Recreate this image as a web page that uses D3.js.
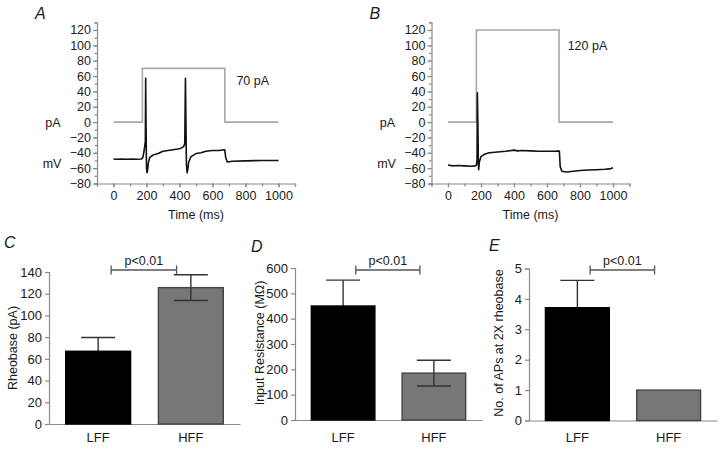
<!DOCTYPE html>
<html><head><meta charset="utf-8">
<script src="https://cdn.jsdelivr.net/npm/d3@7/dist/d3.min.js"></script>
<style>
body{margin:0;background:#fff;}
svg{display:block;font-family:"Liberation Sans",Arial,sans-serif;}
</style></head>
<body><svg id="c" width="720" height="452"></svg>
<script>
// ---------- Data ----------
// Panel A: current step (pA) and membrane voltage (mV) vs time (ms)
const stepA_t = [0, 175, 175, 675, 675, 1000];
const stepA_v = [0, 0, 70, 70, 0, 0];
const traceA_t = [0,20,50,80,110,140,170,178,185,190,193,195,197,200,203,207,212,220,240,270,300,330,360,390,410,425,432,436,439,442,446,450,456,470,500,530,560,600,640,670,674,680,690,720,800,900,1000];
const traceA_v = [-48,-48.5,-48,-48.5,-48,-48.5,-48,-46,-38,-30,-25,57,0,-60,-66,-62,-52,-46,-43,-41,-38,-37,-36,-35,-34,-32,-28,57,0,-55,-66,-62,-52,-45,-41,-40,-38,-37,-37,-36,-36,-46,-52,-51,-50.5,-50,-50];
const labelA = "70 pA";
// Panel B
const stepB_t = [0, 172, 172, 673, 673, 1000];
const stepB_v = [0, 0, 120, 120, 0, 0];
const traceB_t = [0,30,60,100,140,165,172,176,178,181,184,186,190,200,220,250,300,350,400,420,450,500,550,600,650,670,675,680,690,720,760,800,850,900,950,980,1000];
const traceB_v = [-56,-57,-56.5,-57,-57.5,-57,-56,-50,38,0,-55,-62,-52,-45,-42,-40,-39,-38,-36.5,-37.5,-37,-37.5,-38,-38,-38,-37.5,-38,-58,-64,-65,-64,-63,-62.5,-62,-61.5,-61,-59.5];
const labelB = "120 pA";
const timeTicks = [0, 200, 400, 600, 800, 1000];
const voltTicks = [-80, -60, -40, -20, 0, 20, 40, 60, 80, 100, 120];

// Bottom panels
const groups = ["LFF", "HFF"];
const rheobase = [67, 125.6];
const rheobaseErr = [12.7, 11.8];
const rheobaseTicks = [0, 20, 40, 60, 80, 100, 120, 140];
const resistance = [450, 185];
const resistanceErr = [102, 51];
const resistanceTicks = [0, 100, 200, 300, 400, 500, 600];
const apCount = [3.71, 1.0];
const apCountErr = [0.9, 0];
const apCountTicks = [0, 1, 2, 3, 4, 5];
const sigLabel = "p<0.01";

// ---------- Drawing ----------
const svg = d3.select("#c");
const AX = "#8a8a8a";
const TXT = "#1a1a1a";
const fmt = d3.format("d");

function styleAxis(g){
  g.select(".domain").attr("stroke", AX).attr("stroke-width", 1.2);
  g.selectAll(".tick line").attr("stroke", AX).attr("stroke-width", 1.2);
  g.selectAll(".tick text").attr("fill", TXT).attr("font-size", 12.5)
   .attr("font-family", "Liberation Sans, Arial, sans-serif");
}

function tracePanel(o){
  const x = d3.scaleLinear().domain([-100, 1100]).range([o.x0, o.x0 + 198]);
  const y = d3.scaleLinear().domain([-80, 130]).range([183.5, 22.3]);
  const gxm = svg.append("g").attr("transform", `translate(0,${y(-80)})`)
    .call(d3.axisBottom(x).tickValues(d3.range(-100, 1101, 100)).tickSize(3).tickFormat(""));
  styleAxis(gxm);
  const gx = svg.append("g").attr("transform", `translate(0,${y(-80)})`)
    .call(d3.axisBottom(x).tickValues(timeTicks).tickFormat(fmt).tickSize(4).tickPadding(4));
  styleAxis(gx);
  gx.select(".domain").remove();
  const gym = svg.append("g").attr("transform", `translate(${x(-100)},0)`)
    .call(d3.axisLeft(y).tickValues(d3.range(-80, 131, 10)).tickSize(2.5).tickFormat(""));
  styleAxis(gym);
  const gy = svg.append("g").attr("transform", `translate(${x(-100)},0)`)
    .call(d3.axisLeft(y).tickValues(voltTicks).tickFormat(fmt).tickSize(4).tickPadding(2));
  styleAxis(gy);
  gy.select(".domain").remove();

  const line = d3.line().x(d => x(d[0])).y(d => y(d[1]));
  svg.append("path").datum(d3.zip(o.st, o.sv)).attr("d", line)
    .attr("fill", "none").attr("stroke", "#a8a8a8").attr("stroke-width", 1.6);
  svg.append("path").datum(d3.zip(o.tt, o.tv)).attr("d", line)
    .attr("fill", "none").attr("stroke", "#111").attr("stroke-width", 1.6)
    .attr("stroke-linejoin", "round");

  svg.append("text").attr("x", x(o.lx)).attr("y", y(o.ly)).attr("dy", "0.36em")
    .attr("font-size", 12.5).attr("fill", TXT).text(o.label);
  svg.append("text").attr("x", o.x0 - 44).attr("y", y(0)).attr("dy", "0.36em")
    .attr("text-anchor", "middle").attr("font-size", 12.5).attr("fill", TXT).text("pA");
  svg.append("text").attr("x", o.x0 - 45).attr("y", 163).attr("dy", "0.36em")
    .attr("text-anchor", "middle").attr("font-size", 12.5).attr("fill", TXT).text("mV");
  svg.append("text").attr("x", x(500)).attr("y", 219)
    .attr("text-anchor", "middle").attr("font-size", 12.5).attr("fill", TXT).text("Time (ms)");
  svg.append("text").attr("x", o.x0 - 62).attr("y", 19)
    .attr("font-size", 16).attr("font-style", "italic").attr("fill", TXT).text(o.letter);
}

tracePanel({x0: 97, st: stepA_t, sv: stepA_v, tt: traceA_t, tv: traceA_v, label: labelA, lx: 745, ly: 54, letter: "A"});
tracePanel({x0: 431.5, st: stepB_t, sv: stepB_v, tt: traceB_t, tv: traceB_v, label: labelB, lx: 725, ly: 100, letter: "B"});

function barPanel(o){
  const x = d3.scaleBand().domain(groups).range([o.x0, o.x1]).paddingInner(0.3).paddingOuter(0.18);
  const y = d3.scaleLinear().domain([0, o.ymax]).range([o.y0, o.y0 - 152]);
  const gy = svg.append("g").attr("transform", `translate(${o.x0},0)`)
    .call(d3.axisLeft(y).tickValues(o.ticks).tickFormat(fmt).tickSize(4).tickPadding(3));
  styleAxis(gy);
  gy.selectAll(".tick text").attr("font-size", 13);
  const gx = svg.append("g").attr("transform", `translate(0,${o.y0})`)
    .call(d3.axisBottom(x).tickSize(0).tickPadding(0));
  styleAxis(gx);
  gx.selectAll(".tick text").attr("font-size", 13).attr("y", 437 - o.y0).attr("dy", "0.36em");

  const bw = x.bandwidth();
  groups.forEach((g, i) => {
    const v = o.vals[i], e = o.errs[i];
    const cx = x(g) + bw / 2;
    const cap = 17;
    if (e > 0) {
      const lo = i === 0 ? v : v - e;
      svg.append("line").attr("x1", cx).attr("x2", cx).attr("y1", y(lo)).attr("y2", y(v + e))
        .attr("stroke", "#333").attr("stroke-width", 1.4);
      svg.append("line").attr("x1", cx - cap).attr("x2", cx + cap).attr("y1", y(v + e)).attr("y2", y(v + e))
        .attr("stroke", "#333").attr("stroke-width", 1.4);
    }
    svg.append("rect").attr("x", x(g)).attr("width", bw).attr("y", y(v)).attr("height", y(0) - y(v))
      .attr("fill", i === 0 ? "#000" : "#777").attr("stroke", i === 0 ? "#000" : "#444").attr("stroke-width", 1.4);
    if (e > 0 && i === 1) {
      svg.append("line").attr("x1", cx).attr("x2", cx).attr("y1", y(v - e)).attr("y2", y(v))
        .attr("stroke", "#333").attr("stroke-width", 1.4);
      svg.append("line").attr("x1", cx - cap).attr("x2", cx + cap).attr("y1", y(v - e)).attr("y2", y(v - e))
        .attr("stroke", "#333").attr("stroke-width", 1.4);
    }
  });
  const bx1 = x(groups[0]) + bw * 0.7, bx2 = x(groups[1]) + bw * 0.28, by = 270;
  svg.append("path").attr("d", `M${bx1},${by - 4.5}V${by + 4.5}M${bx1},${by}H${bx2}M${bx2},${by - 4.5}V${by + 4.5}`)
    .attr("stroke", "#555").attr("stroke-width", 1.3).attr("fill", "none");
  svg.append("text").attr("x", (bx1 + bx2) / 2).attr("y", by - 5).attr("text-anchor", "middle")
    .attr("font-size", 12.5).attr("fill", TXT).text(sigLabel);
  svg.append("text").attr("transform", `translate(${o.lx},${o.ly}) rotate(-90)`).attr("dy", "0.36em")
    .attr("text-anchor", "middle").attr("font-size", 12.5).attr("fill", TXT).text(o.ylabel);
  svg.append("text").attr("x", o.letx).attr("y", o.lety)
    .attr("font-size", 16).attr("font-style", "italic").attr("fill", TXT).text(o.letter);
}

barPanel({x0: 49, x1: 240, y0: 424, ymax: 140, ticks: rheobaseTicks, vals: rheobase, errs: rheobaseErr,
  ylabel: "Rheobase (pA)", lx: 12, ly: 348, letter: "C", letx: 4, lety: 248});
barPanel({x0: 295, x1: 482, y0: 420, ymax: 600, ticks: resistanceTicks, vals: resistance, errs: resistanceErr,
  ylabel: "Input Resistance (MΩ)", lx: 259, ly: 343, letter: "D", letx: 251, lety: 252});
barPanel({x0: 529, x1: 717, y0: 420.5, ymax: 5, ticks: apCountTicks, vals: apCount, errs: apCountErr,
  ylabel: "No. of APs at 2X rheobase", lx: 498, ly: 343, letter: "E", letx: 489, lety: 251});
</script></body></html>
